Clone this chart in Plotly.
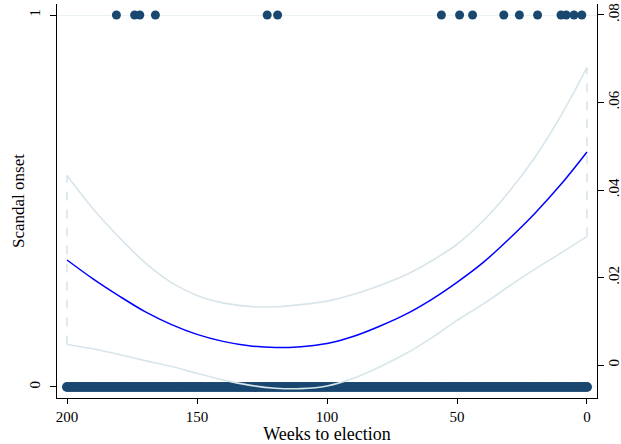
import plotly.graph_objects as go

# ---- data ----
weeks_fit = [200, 190, 180, 170, 160, 150, 140, 130, 120, 110, 100,
             90, 80, 70, 60, 50, 40, 30, 20, 10, 0]
fit = [0.0240, 0.0197, 0.0158, 0.0122, 0.0093, 0.0070, 0.0054, 0.0044, 0.0040, 0.0042, 0.0049,
       0.0065, 0.0088, 0.0115, 0.0149, 0.0189, 0.0234, 0.0288, 0.0347, 0.0413, 0.0487]
ci_upper = [0.0433, 0.0357, 0.0292, 0.0234, 0.0189, 0.0159, 0.0142, 0.0134, 0.0133, 0.0138, 0.0146,
            0.0161, 0.0181, 0.0205, 0.0237, 0.0276, 0.0329, 0.0396, 0.0475, 0.0570, 0.0680]
ci_lower = [0.0047, 0.0037, 0.0024, 0.0010, -0.0003, -0.0019, -0.0034, -0.0046, -0.0053, -0.0054, -0.0048,
            -0.0031, -0.0005, 0.0025, 0.0061, 0.0102, 0.0139, 0.0180, 0.0219, 0.0256, 0.0294]

onset_weeks = [181, 174, 172, 166, 123, 119, 56, 49, 44, 32, 26, 19, 10, 8, 5, 2]
all_weeks = list(range(200, -1, -1))   # every week observed without onset

x_ticks = [200, 150, 100, 50, 0]
left_ticks = [0, 1]
right_ticks = [0, 0.02, 0.04, 0.06, 0.08]
right_labels = ["0", ".02", ".04", ".06", ".08"]

NAVY = "#1a476f"
BAND = "#d8e5ea"
FONT = "Liberation Serif"

fig = go.Figure()

fig.add_trace(go.Scatter(x=all_weeks, y=[0] * len(all_weeks), mode="markers",
                         marker=dict(color=NAVY, size=10, line=dict(width=0)),
                         yaxis="y", showlegend=False, hoverinfo="skip"))
fig.add_trace(go.Scatter(x=onset_weeks, y=[1] * len(onset_weeks), mode="markers",
                         marker=dict(color=NAVY, size=9, line=dict(width=0)),
                         yaxis="y", showlegend=False))

# confidence band outline
fig.add_trace(go.Scatter(x=weeks_fit, y=ci_upper, mode="lines", line=dict(color=BAND, width=1.6, shape="spline"),
                         yaxis="y2", showlegend=False))
fig.add_trace(go.Scatter(x=weeks_fit, y=ci_lower, mode="lines", line=dict(color=BAND, width=1.6, shape="spline"),
                         yaxis="y2", showlegend=False))
for i in (0, -1):
    fig.add_trace(go.Scatter(x=[weeks_fit[i], weeks_fit[i]], y=[ci_lower[i], ci_upper[i]], mode="lines",
                             line=dict(color=BAND, width=1.6, dash="dash"),
                             yaxis="y2", showlegend=False))

fig.add_trace(go.Scatter(x=weeks_fit, y=fit, mode="lines", line=dict(color="#0000ff", width=1.5, shape="spline"),
                         yaxis="y2", showlegend=False))

fig.update_layout(
    width=621, height=444,
    margin=dict(l=57, r=24, t=4, b=46, autoexpand=False),
    paper_bgcolor="white", plot_bgcolor="white",
    font=dict(family=FONT, size=15, color="black"),
    xaxis=dict(range=[203.85, -3.85], tickvals=x_ticks, ticks="outside", ticklen=5, tickcolor="black",
               showline=True, linecolor="black", linewidth=1, showgrid=False, zeroline=False,
               automargin=False,
               title=dict(text="Weeks to election", standoff=2), tickfont=dict(size=15)),
    yaxis=dict(range=[-0.0296, 1.0296], tickvals=left_ticks, ticks="outside", ticklen=6, tickcolor="black",
               tickangle=-90, ticklabelstandoff=4, showline=True, linecolor="black", linewidth=1,
               showgrid=True, gridcolor="#eaf2f3", gridwidth=1, zeroline=False, automargin=False,
               tickfont=dict(size=15)),
    yaxis2=dict(range=[-0.00754, 0.08251], tickvals=right_ticks, ticktext=right_labels, overlaying="y",
                side="right", ticks="outside", ticklen=6, tickcolor="black", tickangle=-90,
                ticklabelstandoff=-3,
                showline=True, linecolor="black", linewidth=1, showgrid=False, zeroline=False,
                automargin=False, tickfont=dict(size=15)),
    annotations=[dict(text="Scandal onset", xref="paper", yref="paper", x=(18 - 57) / 540, y=0.5,
                      xanchor="center", yanchor="middle", textangle=-90, showarrow=False,
                      font=dict(family=FONT, size=17, color="black"))],
)

fig.write_html("out.html")
